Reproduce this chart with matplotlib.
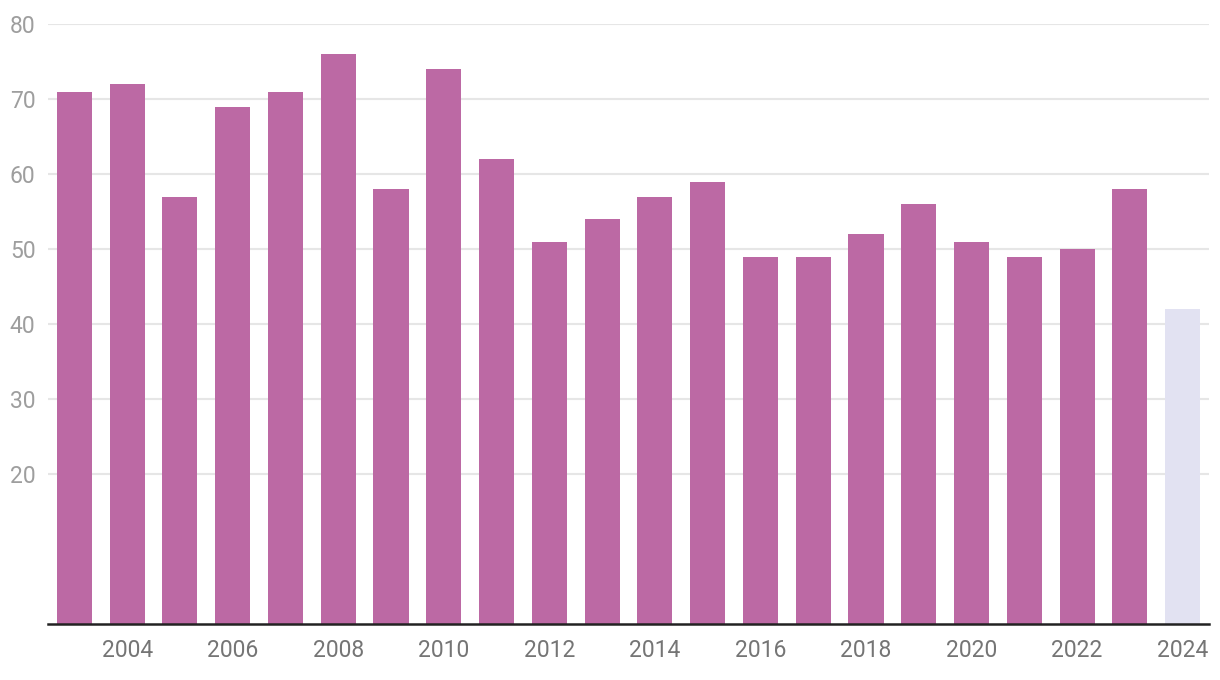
import matplotlib
matplotlib.use("Agg")
import matplotlib.pyplot as plt

plt.rcParams["font.family"] = ["Roboto", "DejaVu Sans"]

years = list(range(2003, 2025))
values = [71, 72, 57, 69, 71, 76, 58, 74, 62, 51, 54, 57, 59, 49, 49, 52, 56, 51, 49, 50, 58, 42]
bar_colors = ["#bc69a4"] * 21 + ["#e2e2f2"]
y_ticks = [20, 30, 40, 50, 60, 70, 80]
x_tick_years = list(range(2004, 2025, 2))

fig = plt.figure(figsize=(12.2, 6.8), dpi=100)
ax = fig.add_axes([48 / 1220, 56 / 680, 1161 / 1220, 600 / 680])

x = list(range(len(years)))
ax.bar(x, values, width=0.665, color=bar_colors, zorder=2)

ax.set_xlim(-0.5, len(years) - 0.5)
ax.set_ylim(0, 80)
ax.set_yticks(y_ticks)
ax.set_yticklabels([str(t) for t in y_ticks])
ax.set_xticks([years.index(y) for y in x_tick_years])
ax.set_xticklabels([str(y) for y in x_tick_years])

ax.grid(axis="y", color="#e6e6e6", lw=1.5, zorder=0)
ax.axhline(0, color="#222222", lw=1.8, zorder=3, clip_on=False)

for s in ax.spines.values():
    s.set_visible(False)
ax.tick_params(axis="both", length=0)
ax.tick_params(axis="y", labelsize=16.5, labelcolor="#9e9e9e", pad=9)
ax.tick_params(axis="x", labelsize=16.5, labelcolor="#757575", pad=11)

fig.savefig("out.png", dpi=100)
